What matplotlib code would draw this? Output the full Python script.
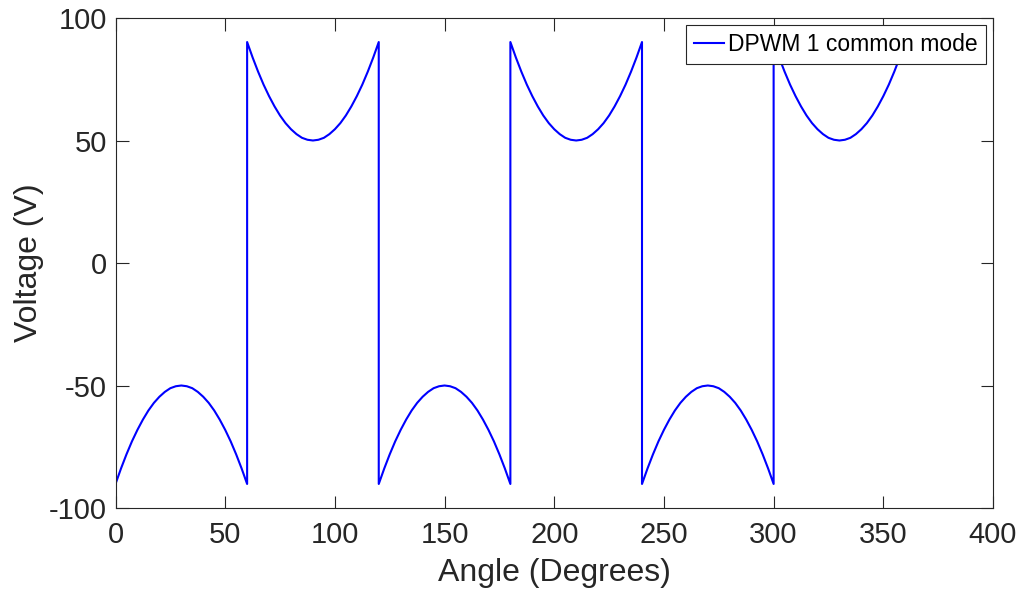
import numpy as np
import matplotlib
matplotlib.use('Agg')
import matplotlib.pyplot as plt

plt.rcParams['font.family'] = ['Liberation Sans', 'DejaVu Sans']

# DPWM 1 common mode voltage, every 2.5 degrees
angle = [
    0, 2.5, 5, 7.5, 10, 12.5, 15, 17.5, 20, 22.5, 25, 27.5, 30,
    32.5, 35, 37.5, 40, 42.5, 45, 47.5, 50, 52.5, 55, 57.5, 60,
    60, 62.5, 65, 67.5, 70, 72.5, 75, 77.5, 80, 82.5, 85, 87.5, 90,
    92.5, 95, 97.5, 100, 102.5, 105, 107.5, 110, 112.5, 115, 117.5, 120,
    120, 122.5, 125, 127.5, 130, 132.5, 135, 137.5, 140, 142.5, 145, 147.5, 150,
    152.5, 155, 157.5, 160, 162.5, 165, 167.5, 170, 172.5, 175, 177.5, 180,
    180, 182.5, 185, 187.5, 190, 192.5, 195, 197.5, 200, 202.5, 205, 207.5, 210,
    212.5, 215, 217.5, 220, 222.5, 225, 227.5, 230, 232.5, 235, 237.5, 240,
    240, 242.5, 245, 247.5, 250, 252.5, 255, 257.5, 260, 262.5, 265, 267.5, 270,
    272.5, 275, 277.5, 280, 282.5, 285, 287.5, 290, 292.5, 295, 297.5, 300,
    300, 302.5, 305, 307.5, 310, 312.5, 315, 317.5, 320, 322.5, 325, 327.5, 330,
    332.5, 335, 337.5, 340, 342.5, 345, 347.5, 350, 352.5, 355, 357.5, 360,
]
voltage = [
    -90.2, -83.9, -78.1, -72.8, -68.1, -63.9, -60.2, -57.1, -54.6, -52.6, -51.1, -50.3, -50.0,
    -50.3, -51.1, -52.6, -54.6, -57.1, -60.2, -63.9, -68.1, -72.8, -78.1, -83.9, -90.2,
    90.2, 83.9, 78.1, 72.8, 68.1, 63.9, 60.2, 57.1, 54.6, 52.6, 51.1, 50.3, 50.0,
    50.3, 51.1, 52.6, 54.6, 57.1, 60.2, 63.9, 68.1, 72.8, 78.1, 83.9, 90.2,
    -90.2, -83.9, -78.1, -72.8, -68.1, -63.9, -60.2, -57.1, -54.6, -52.6, -51.1, -50.3, -50.0,
    -50.3, -51.1, -52.6, -54.6, -57.1, -60.2, -63.9, -68.1, -72.8, -78.1, -83.9, -90.2,
    90.2, 83.9, 78.1, 72.8, 68.1, 63.9, 60.2, 57.1, 54.6, 52.6, 51.1, 50.3, 50.0,
    50.3, 51.1, 52.6, 54.6, 57.1, 60.2, 63.9, 68.1, 72.8, 78.1, 83.9, 90.2,
    -90.2, -83.9, -78.1, -72.8, -68.1, -63.9, -60.2, -57.1, -54.6, -52.6, -51.1, -50.3, -50.0,
    -50.3, -51.1, -52.6, -54.6, -57.1, -60.2, -63.9, -68.1, -72.8, -78.1, -83.9, -90.2,
    90.2, 83.9, 78.1, 72.8, 68.1, 63.9, 60.2, 57.1, 54.6, 52.6, 51.1, 50.3, 50.0,
    50.3, 51.1, 52.6, 54.6, 57.1, 60.2, 63.9, 68.1, 72.8, 78.1, 83.9, 90.2,
]

xticks = [0, 50, 100, 150, 200, 250, 300, 350, 400]
yticks = [-100, -50, 0, 50, 100]

axcol = '#262626'

fig = plt.figure(figsize=(10.24, 5.99), dpi=100)
ax = fig.add_axes([115.5 / 1024, 1 - 508 / 599, (993 - 115.5) / 1024, (508 - 18) / 599])

ax.plot(angle, voltage, color='#0000ff', lw=1.5, label='DPWM 1 common mode')

ax.set_xlim(0, 400)
ax.set_ylim(-100, 100)
ax.set_xticks(xticks)
ax.set_yticks(yticks)
ax.set_xticklabels([str(t) for t in xticks])
ax.set_yticklabels([str(t) for t in yticks])
ax.tick_params(direction='in', length=9, width=0.8, colors=axcol, labelsize=21,
               top=True, right=True, pad=6)
ax.tick_params(axis='x', pad=9.5)
for s in ax.spines.values():
    s.set_color(axcol)
    s.set_linewidth(0.8)

ax.set_xlabel('Angle (Degrees)', fontsize=23, color=axcol, labelpad=6)
ax.set_ylabel('Voltage (V)', fontsize=23, color=axcol, labelpad=4)

# legend box in the top right corner, square edges like MATLAB
leg = ax.legend(loc='upper right', fontsize=16.5, fancybox=False, framealpha=1,
                edgecolor=axcol, handlelength=1.3, handletextpad=0.2,
                borderpad=0.35, borderaxespad=0.3)
leg.get_frame().set_linewidth(0.8)

fig.savefig('out.png', dpi=100)
